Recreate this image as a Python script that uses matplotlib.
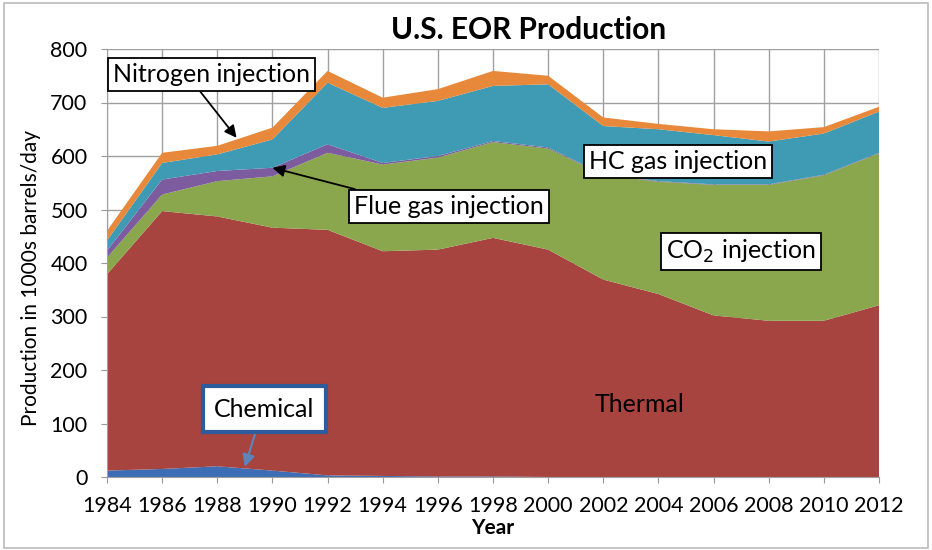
import matplotlib
matplotlib.use("Agg")
import matplotlib.pyplot as plt
from matplotlib.patches import Rectangle

years = [1984, 1986, 1988, 1990, 1992, 1994, 1996, 1998, 2000, 2002, 2004, 2006, 2008, 2010, 2012]
chemical = [12, 15, 20, 12, 3, 2, 1, 1, 0, 0, 0, 0, 0, 0, 0]
thermal = [367, 482, 467, 454, 459, 420, 424, 446, 425, 369, 342, 302, 292, 292, 321]
co2 = [31, 31, 66, 96, 144, 162, 172, 179, 189, 196, 210, 244, 254, 272, 284]
flue_gas = [13, 28, 19, 16, 16, 3, 3, 2, 2, 1, 1, 1, 1, 1, 1]
hc_gas = [19, 31, 31, 53, 115, 103, 103, 103, 118, 90, 97, 92, 80, 77, 77]
nitrogen = [18, 19, 16, 22, 22, 19, 22, 28, 16, 16, 10, 11, 19, 12, 9]

series_names = ["Chemical", "Thermal", "CO2 injection", "Flue gas injection", "HC gas injection", "Nitrogen injection"]
colors = ["#3D6DB5", "#A8443F", "#8BA74D", "#7C5C9E", "#3F9AB4", "#E8883A"]

plt.rcParams['font.family'] = ['Lato', 'DejaVu Sans']

fig = plt.figure(figsize=(9.32, 5.5), dpi=100)
ax = fig.add_axes([107/932, 1-477/550, (879-107)/932, (477-49)/550])

ax.stackplot(years, chemical, thermal, co2, flue_gas, hc_gas, nitrogen,
             colors=colors, labels=series_names, zorder=2, linewidth=0)

ax.set_xlim(1984, 2012)
ax.set_ylim(0, 800)
ax.set_xticks(years)
ax.set_yticks(range(0, 801, 100))
ax.tick_params(axis='both', labelsize=15.5, length=4, color='#999999')
ax.tick_params(axis='x', pad=10)
ax.tick_params(axis='y', pad=10)
ax.grid(True, color='#A0A0A0', linewidth=1.0, zorder=0)
ax.set_axisbelow(True)
for s in ax.spines.values():
    s.set_color('#A0A0A0')
ax.spines['top'].set_visible(False)
ax.spines['right'].set_visible(False)

fig.text(529/932, 1-30/550, "U.S. EOR Production", fontsize=21.5, fontweight='bold',
         ha='center', va='center')
ax.set_xlabel("Year", fontsize=15, fontweight='bold', labelpad=1)
ax.set_ylabel("Production in 1000s barrels/day", fontsize=15)
ax.yaxis.set_label_coords(-0.085, 0.465)

box = dict(boxstyle='square,pad=0.2', facecolor='white', edgecolor='black', linewidth=1.3)
fs = 18

ax.annotate("Nitrogen injection", xy=(1988.7, 634), xytext=(1987.8, 752),
            fontsize=fs, ha='center', va='center', bbox=box, zorder=5,
            arrowprops=dict(arrowstyle='-|>', color='black', lw=1.3, shrinkA=0, shrinkB=0,
                            relpos=(0.42, 0.0)))
ax.annotate("Flue gas injection", xy=(1990.0, 578), xytext=(1996.4, 506),
            fontsize=fs, ha='center', va='center', bbox=box, zorder=5,
            arrowprops=dict(arrowstyle='-|>', color='black', lw=1.3, shrinkA=0, shrinkB=0,
                            relpos=(0.12, 1.0)))
ax.text(2004.7, 589, "HC gas injection", fontsize=fs, ha='center', va='center', bbox=box, zorder=5)
ax.text(2007.0, 422, "CO$_2$ injection", fontsize=fs, ha='center', va='center', bbox=box, zorder=5)
ax.text(2003.3, 135, "Thermal", fontsize=fs, ha='center', va='center', zorder=5)
ax.annotate("Chemical", xy=(1989.0, 19), xytext=(1989.7, 127),
            fontsize=fs, ha='center', va='center', zorder=5,
            bbox=dict(boxstyle='square,pad=0.45', facecolor='white', edgecolor='#2E5C9A', linewidth=3),
            arrowprops=dict(arrowstyle='-|>', color='#5A86BD', lw=1.5, shrinkA=0, shrinkB=0,
                            relpos=(0.45, 0.0)))

fig.patches.append(Rectangle((0.004, 0.004), 0.992, 0.99, transform=fig.transFigure,
                             fill=False, edgecolor='#BBBBBB', linewidth=1.2))

fig.savefig("out.png", dpi=100)
